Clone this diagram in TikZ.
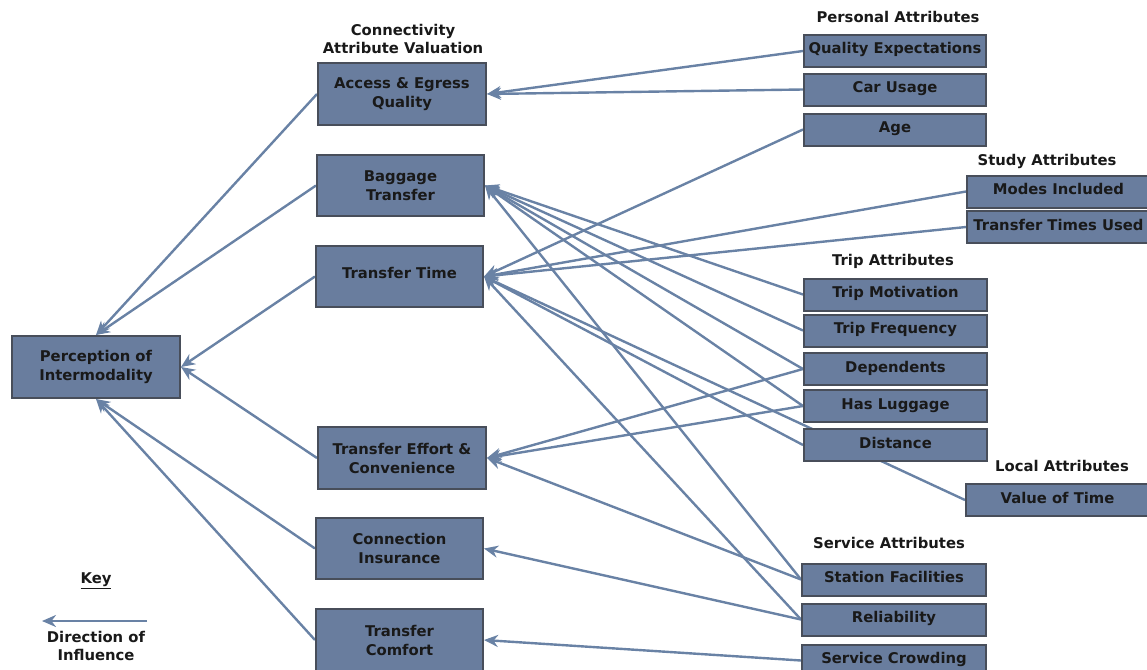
\documentclass[tikz,border=0pt]{standalone}
\usepackage{fontspec}
\setmainfont{DejaVu Sans}
\usetikzlibrary{arrows.meta}
\pgfdeclarelayer{bg}
\pgfsetlayers{bg,main}
\definecolor{boxfill}{RGB}{105,125,158}
\definecolor{boxdraw}{RGB}{72,78,90}
\definecolor{linkcol}{RGB}{105,130,165}
\definecolor{txt}{RGB}{25,25,25}
\tikzset{
  box/.style={draw=boxdraw, line width=2pt, fill=boxfill, minimum width=168pt,
    minimum height=62pt, inner sep=0pt, align=center,
    font=\fontsize{14.8}{19}\selectfont\bfseries, text=txt},
  attr/.style={box, minimum width=182pt, minimum height=32pt, text height=11pt, text depth=5pt},
  head/.style={inner sep=0pt, align=center, font=\fontsize{14.8}{18}\selectfont\bfseries, text=txt},
  link/.style={draw=linkcol, line width=2.4pt, -{Stealth[length=14pt,width=12pt,inset=4.5pt]}},
}
\begin{document}
\begin{tikzpicture}[x=1pt,y=-1pt]
\useasboundingbox (0,0) rectangle (1147,669);
% middle and left boxes
\node[box, yshift=-0pt] (perc) at (96,367) {Perception of\\Intermodality};
\node[box] (acc) at (402,94) {Access \& Egress\\Quality};
\node[box, minimum width=167pt, minimum height=61pt] (bag) at (400.5,185.5) {Baggage\\Transfer};
\node[box, minimum width=167pt, minimum height=61pt, text height=11pt, text depth=8pt] (tt) at (399.5,276.5) {Transfer Time};
\node[box] (te) at (402,458) {Transfer Effort \&\\Convenience};
\node[box, minimum width=167pt, minimum height=61pt] (ci) at (399.5,548.5) {Connection\\Insurance};
\node[box, minimum width=167pt] (tc) at (399.5,640) {Transfer\\Comfort};
% right boxes
\node[attr] (qe) at (895,51) {Quality Expectations};
\node[attr] (cu) at (895,89.5) {Car Usage};
\node[attr] (age) at (895,129.5) {Age};
\node[attr, minimum width=183pt] (mi) at (1058.5,191.5) {Modes Included};
\node[attr, minimum width=183pt] (ttu) at (1058.5,227) {Transfer Times Used};
\node[attr, minimum width=183pt] (tm) at (895.5,294.5) {Trip Motivation};
\node[attr, minimum width=183pt] (tf) at (895.5,330.5) {Trip Frequency};
\node[attr, minimum width=183pt] (dep) at (895.5,369) {Dependents};
\node[attr, minimum width=183pt] (lug) at (895.5,406) {Has Luggage};
\node[attr, minimum width=183pt] (dist) at (895.5,445) {Distance};
\node[attr, minimum width=183pt] (vot) at (1057.5,500) {Value of Time};
\node[attr, minimum width=184pt] (sf) at (894,579.5) {Station Facilities};
\node[attr, minimum width=184pt] (rel) at (894,619.5) {Reliability};
\node[attr, minimum width=184pt] (sc) at (894,660.5) {Service Crowding};
% headings
\node[head] (hcon) at (403,39) {Connectivity\\Attribute Valuation};
\node[head] (hper) at (898,17) {Personal Attributes};
\node[head] (hstu) at (1047,161) {Study Attributes};
\node[head] (htri) at (893,261) {Trip Attributes};
\node[head] (hloc) at (1062,466) {Local Attributes};
\node[head] (hser) at (889,543) {Service Attributes};
% key
\node[head] (key) at (96,581) {\underline{Key}};
\coordinate (k1) at (147,621);
\coordinate (k2) at (42,621);
\node[head] (dir) at (96,646) {Direction of\\Influence};
\begin{pgfonlayer}{bg}
\draw[link] (k1) -- (k2);
% to perception
\draw[link] (acc.west) -- (perc.north);
\draw[link] (bag.west) -- (perc.north);
\draw[link] (tt.west) -- (perc.east);
\draw[link] (te.west) -- (perc.east);
\draw[link] (ci.west) -- (perc.south);
\draw[link] (tc.west) -- (perc.south);
% access
\draw[link] (qe.west) -- (acc.east);
\draw[link] (cu.west) -- (acc.east);
% baggage
\draw[link] (tm.west) -- (bag.east);
\draw[link] (tf.west) -- (bag.east);
\draw[link] (dep.west) -- (bag.east);
\draw[link] (lug.west) -- (bag.east);
\draw[link] (sf.west) -- (bag.east);
% transfer time
\draw[link] (age.west) -- (tt.east);
\draw[link] (mi.west) -- (tt.east);
\draw[link] (ttu.west) -- (tt.east);
\draw[link] (dist.west) -- (tt.east);
\draw[link] (vot.west) -- (tt.east);
\draw[link] (rel.west) -- (tt.east);
% transfer effort
\draw[link] (dep.west) -- (te.east);
\draw[link] (lug.west) -- (te.east);
\draw[link] (sf.west) -- (te.east);
% connection insurance, comfort
\draw[link] (rel.west) -- (ci.east);
\draw[link] (sc.west) -- (tc.east);
\end{pgfonlayer}
\end{tikzpicture}
\end{document}
